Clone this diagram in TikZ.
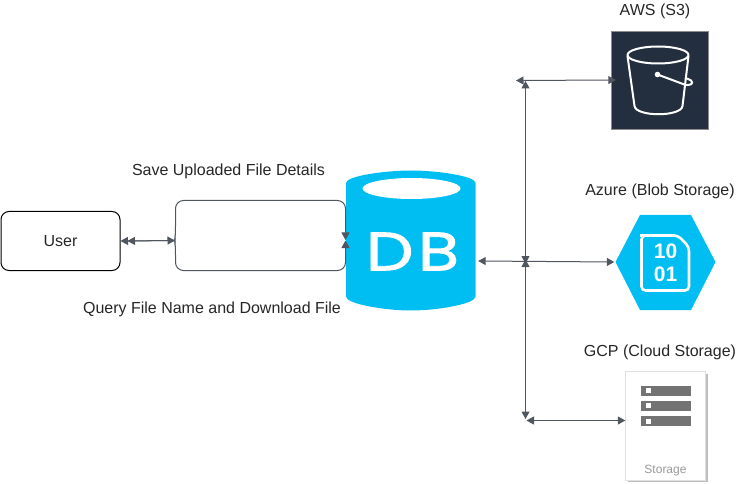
\documentclass[tikz,border=0pt]{standalone}
\usepackage{fontspec}
\setmainfont{Liberation Sans}
\newfontfamily\logofont[FakeStretch=1.25,FakeBold=1.6,LetterSpace=8]{Poppins}
\usetikzlibrary{arrows.meta}
\definecolor{linkgray}{HTML}{50565F}
\definecolor{dbblue}{HTML}{00BEF2}
\definecolor{awsnavy}{HTML}{232F3E}
\tikzset{every node/.style={inner sep=0pt,text=black!85,font=\fontsize{16}{19}\selectfont}}
\tikzset{link/.style={draw=linkgray,line width=1pt,{Triangle[length=7.5pt,width=8pt]}-{Triangle[length=7.5pt,width=8pt]}}}
\tikzset{bucket/.style={draw=white,line width=2pt,line join=round}}
\tikzset{rack/.style={fill=black!55}}

\begin{document}
\begin{tikzpicture}[x=1pt,y=-1pt]
  \useasboundingbox (0,0) rectangle (745,484);

  % database
  \fill[dbblue] (346,183) .. controls (346,176) and (385,170.5) .. (411,170.5)
    .. controls (437,170.5) and (475.5,176) .. (475.5,183) -- (475.5,296.5)
    .. controls (475.5,304) and (437,310.5) .. (411,310.5)
    .. controls (385,310.5) and (346,304) .. (346,296.5) -- cycle;
  \fill[white] (411.5,188.5) ellipse [x radius=49,y radius=10.5];
  \node (DB) at (410.5,240.5) [minimum width=129,minimum height=139] {};
  \node (DBtext) at (412.5,251.5) [text=white,font=\logofont\fontsize{54}{54}\selectfont] {DB};

  % aws
  \node (AWS) at (659.5,80) [draw=black!45,fill=awsnavy,minimum width=97,minimum height=98] {};
  \draw[bucket] (658,55) ellipse [x radius=30.5,y radius=8.5];
  \draw[bucket] (627.5,56) -- (634.5,106) .. controls (636,117) and (681,117) .. (682.5,106) -- (688.5,56);
  \draw[bucket] (657.5,74.5) -- (683,84) .. controls (691,87) and (694,83) .. (691,80.5) .. controls (689,79) and (687,78.5) .. (685,78);
  \fill[white] (657.5,74.5) circle (2.8);

  % azure
  \fill[dbblue] (615.5,262) -- (640,215) -- (691,215) -- (715.5,262) -- (691,310) -- (640,310) -- cycle;
  \node (Azure) at (665.5,262) [minimum width=100,minimum height=95] {};
  \draw[white,line width=2.6pt,rounded corners=4] (678,235.5) -- (644,235.5) -- (641.5,235.5) -- (641.5,290.5) -- (689,290.5) -- (689,247) -- cycle;
  \node (Bits1) at (665.5,251.5) [text=white,font=\bfseries\fontsize{21}{21}\selectfont] {10};
  \node (Bits2) at (665.5,274.5) [text=white,font=\bfseries\fontsize{21}{21}\selectfont] {01};

  % gcp
  \fill[black!25] (628,374) rectangle (708,482);
  \node (GCP) at (665.5,425.5) [draw=black!12,fill=white,minimum width=80,minimum height=109] {};
  \fill[rack] (640.5,385.5) rectangle (690.5,395.5);
  \fill[rack] (640.5,400.5) rectangle (690.5,410.5);
  \fill[rack] (640.5,416) rectangle (690.5,426);
  \fill[white] (646,388) rectangle (651,393);
  \fill[white] (646,403) rectangle (651,408);
  \fill[white] (646,418.5) rectangle (651,423.5);
  \node (Rack) at (665.5,470.5) [text=black!40,font=\fontsize{12}{14}\selectfont] {Storage};

  \node (User) at (60.5,241) [draw=black,line width=1pt,rounded corners=8,minimum width=119,minimum height=59] {User};

  \node (Save) at (228.5,171) {Save Uploaded File Details};
  \node (Query) at (212,309.5) {Query File Name and Download File};
  \node (S3) at (655,11) {AWS (S3)};
  \node (Blob) at (660,191) {Azure (Blob Storage)};
  \node (Cloud) at (660,352) {GCP (Cloud Storage)};

  \coordinate (Notch) at (175,240.5);
  \coordinate (TopL) at (175.5,200.5);
  \coordinate (BotL) at (175.5,270.5);
  \coordinate (TopR) at (345.5,200.5);
  \coordinate (BotR) at (345.5,270.5);
  \coordinate (InTop) at (345.5,240);
  \coordinate (InBot) at (345.5,240.5);
  \coordinate (Hub) at (525.5,261.5);
  \coordinate (HubTop) at (525.5,81);
  \coordinate (HubBot) at (525.5,419);

  \draw[link] (User.east) -- (Notch);
  \draw[link,{Triangle[length=7.5pt,width=8pt]}-] ([xshift=7]User.east) -- (Notch);
  \draw[link,-{Triangle[length=7.5pt,width=8pt]},rounded corners=8] (172,240.5) .. controls (175,240) .. (175.5,234) -- (TopL) -- (TopR) -- (InTop);
  \draw[link,-{Triangle[length=7.5pt,width=8pt]},rounded corners=8] (172,240.5) .. controls (175,241) .. (175.5,247) -- (BotL) -- (BotR) -- (InBot);

  \draw[link] ([xshift=3,yshift=-20.5]DB.east) -- ([xshift=-1]Azure.west);
  \draw[link] (HubTop) -- ([yshift=-2]Hub);
  \draw[link] (HubBot) -- ([yshift=2]Hub);
  \draw[link] (516,80.5) -- ([xshift=5]AWS.west);
  \draw[link] (526.5,420.5) -- ([yshift=5]GCP.west);
\end{tikzpicture}
\end{document}
